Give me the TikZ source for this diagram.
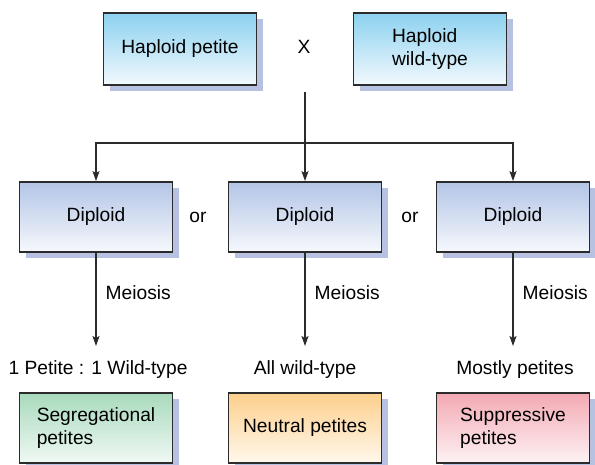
\documentclass[tikz,border=0pt]{standalone}
\usepackage{fontspec}
\setmainfont{Liberation Sans}
\usetikzlibrary{arrows.meta,shadows}
\definecolor{bordercol}{HTML}{2B2B2B}
\definecolor{shadowcol}{HTML}{B7C2E3}
\definecolor{skytop}{HTML}{8CD1F0}
\definecolor{skybot}{HTML}{F2F9FD}
\definecolor{lavtop}{HTML}{B3C5E6}
\definecolor{lavbot}{HTML}{F6F8FC}
\definecolor{greentop}{HTML}{A8DABD}
\definecolor{greenbot}{HTML}{F0F9F4}
\definecolor{orangetop}{HTML}{FDCF8C}
\definecolor{orangebot}{HTML}{FFF8EC}
\definecolor{pinktop}{HTML}{F3A9B3}
\definecolor{pinkbot}{HTML}{FDF2F4}
\tikzset{
  box/.style={draw=bordercol, line width=1.8pt, minimum width=153pt, minimum height=70pt,
    inner sep=0pt, align=left,
    drop shadow={shadow xshift=6pt, shadow yshift=-6pt, fill=shadowcol, opacity=1}},
  skybox/.style={box, top color=skytop, bottom color=skybot, minimum height=72pt},
  lavbox/.style={box, top color=lavtop, bottom color=lavbot},
  greenbox/.style={box, top color=greentop, bottom color=greenbot},
  orangebox/.style={box, top color=orangetop, bottom color=orangebot},
  pinkbox/.style={box, top color=pinktop, bottom color=pinkbot},
  lbl/.style={inner sep=0pt},
  conn/.style={draw=bordercol, line width=1.3pt},
  arr/.style={conn, -{Stealth[length=10pt,width=7pt,inset=2pt]}},
}
\begin{document}
\begin{tikzpicture}[x=1pt,y=-1pt, font=\fontsize{19.2}{23}\selectfont]
\useasboundingbox (0,0) rectangle (595,464);
% top
\node[skybox] (hp) at (180,49) {Haploid petite};
\node[skybox] (hw) at (430,49) {Haploid\\wild-type};
\node[lbl] (x) at (304,47) {X};
\coordinate (stem) at (305,92);
\coordinate (split) at (305,143);
% diploids
\node[lavbox] (d1) at (96,217) {Diploid};
\node[lavbox] (d2) at (305,217) {Diploid};
\node[lavbox] (d3) at (513,217) {Diploid};
\node[lbl] (or1) at (198,217) {or};
\node[lbl] (or2) at (410,217) {or};
% labels
\node[lbl] (l1) at (98,370) {1 Petite : 1 Wild-type};
\node[lbl] (l2) at (305,370) {All wild-type};
\node[lbl] (l3) at (515,370) {Mostly petites};
% bottom boxes
\node[greenbox] (b1) at (96,428) {Segregational\\petites};
\node[orangebox] (b2) at (305,428) {Neutral petites};
\node[pinkbox] (b3) at (513,428) {Suppressive\\petites};
% connectors
\draw[conn] (stem) -- (split);
\draw[arr] (split) -| (d1.north);
\draw[arr] (split) -- (d2.north);
\draw[arr] (split) -| (d3.north);
\coordinate (e1) at (96,346);
\coordinate (e2) at (305,346);
\coordinate (e3) at (513,346);
\draw[arr] (d1.south) -- node[pos=0.43, right=9pt, lbl] {Meiosis} (e1);
\draw[arr] (d2.south) -- node[pos=0.43, right=9pt, lbl] {Meiosis} (e2);
\draw[arr] (d3.south) -- node[pos=0.43, right=9pt, lbl] {Meiosis} (e3);
\end{tikzpicture}
\end{document}
